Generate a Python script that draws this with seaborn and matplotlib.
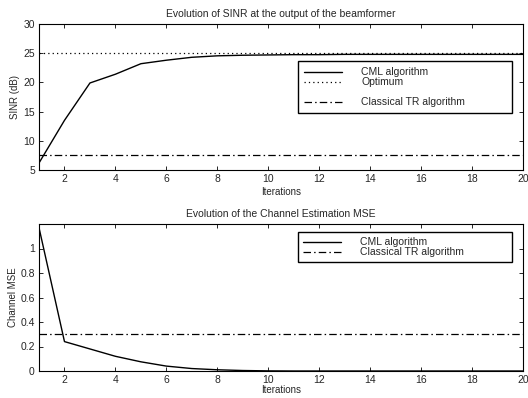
import seaborn as sns
import matplotlib.pyplot as plt
import matplotlib.lines as mlines
import numpy as np
import pandas as pd

# Data
iterations = list(range(1, 21))
sinr_cml = [6.2, 13.5, 19.9, 21.4, 23.2, 23.8, 24.3, 24.55, 24.65, 24.7,
            24.75, 24.75, 24.8, 24.8, 24.8, 24.8, 24.8, 24.8, 24.8, 24.8]
sinr_optimum = 25.1
sinr_classical = 7.5

mse_cml = [1.17, 0.24, 0.18, 0.12, 0.075, 0.04, 0.02, 0.01, 0.004, 0.001,
           0.0, 0.0, 0.0, 0.0, 0.0, 0.0, 0.0, 0.0, 0.0, 0.0]
mse_classical = 0.30

sinr_df = pd.DataFrame({'Iterations': iterations, 'SINR': sinr_cml})
mse_df = pd.DataFrame({'Iterations': iterations, 'MSE': mse_cml})

sns.set_style('white')
plt.rcParams['font.family'] = ['Liberation Sans', 'DejaVu Sans']
plt.rcParams['font.size'] = 7

fig = plt.figure(figsize=(5.28, 3.98), dpi=100)
ax1 = fig.add_axes([39 / 528, 1 - 170 / 398, 484 / 528, 146 / 398])
ax2 = fig.add_axes([39 / 528, 1 - 371 / 398, 484 / 528, 147 / 398])

dashdot = (0, (6, 2.5, 1.2, 2.5))
leg_kw = dict(loc='upper left', mode='expand', borderaxespad=0, fontsize=7.5,
              frameon=True, fancybox=False, edgecolor='black', framealpha=1,
              handlelength=3.6, labelspacing=0.0, handletextpad=1.9)

# Top panel: SINR
sns.lineplot(data=sinr_df, x='Iterations', y='SINR', color='black', linewidth=1.0,
             ax=ax1, label='CML algorithm')
ax1.axhline(sinr_optimum, color='black', linestyle=(0, (1, 2.5)), linewidth=0.9, label='Optimum')
ax1.axhline(sinr_classical, color='black', linestyle=dashdot, linewidth=0.9,
            label='Classical TR algorithm')
blank = mlines.Line2D([], [], color='none')
h, l = ax1.get_legend_handles_labels()
ax1.legend(h[:2] + [blank] + h[2:], l[:2] + [' '] + l[2:],
           bbox_to_anchor=(0.535, 0.0, 0.442, 0.747), borderpad=0.6, **leg_kw)
ax1.set_xlim(1, 20)
ax1.set_ylim(5, 30)
ax1.set_xticks(range(2, 21, 2))
ax1.set_yticks(range(5, 31, 5))
ax1.set_xlabel('Iterations', labelpad=2)
ax1.set_ylabel('SINR (dB)', labelpad=2)
ax1.set_title('Evolution of SINR at the output of the beamformer', fontsize=7.5, pad=5)

# Bottom panel: channel MSE
sns.lineplot(data=mse_df, x='Iterations', y='MSE', color='black', linewidth=1.0,
             ax=ax2, label='CML algorithm')
ax2.axhline(mse_classical, color='black', linestyle=dashdot, linewidth=0.9,
            label='Classical TR algorithm')
ax2.legend(bbox_to_anchor=(0.535, 0.0, 0.442, 0.946), borderpad=0.5, **leg_kw)
ax2.set_xlim(1, 20)
ax2.set_ylim(0, 1.2)
ax2.set_xticks(range(2, 21, 2))
ax2.set_yticks([0, 0.2, 0.4, 0.6, 0.8, 1])
ax2.set_yticklabels(['0', '0.2', '0.4', '0.6', '0.8', '1'])
ax2.set_xlabel('Iterations', labelpad=0)
ax2.set_ylabel('Channel MSE', labelpad=2)
ax2.set_title('Evolution of the Channel Estimation MSE', fontsize=7.5, pad=5)

for ax in (ax1, ax2):
    for s in ax.spines.values():
        s.set_color('black')
        s.set_linewidth(0.8)
    ax.tick_params(direction='in', length=3, width=0.7, top=True, right=True,
                   bottom=True, left=True, labelsize=7.5, pad=3)

fig.savefig('out.png', dpi=100)
